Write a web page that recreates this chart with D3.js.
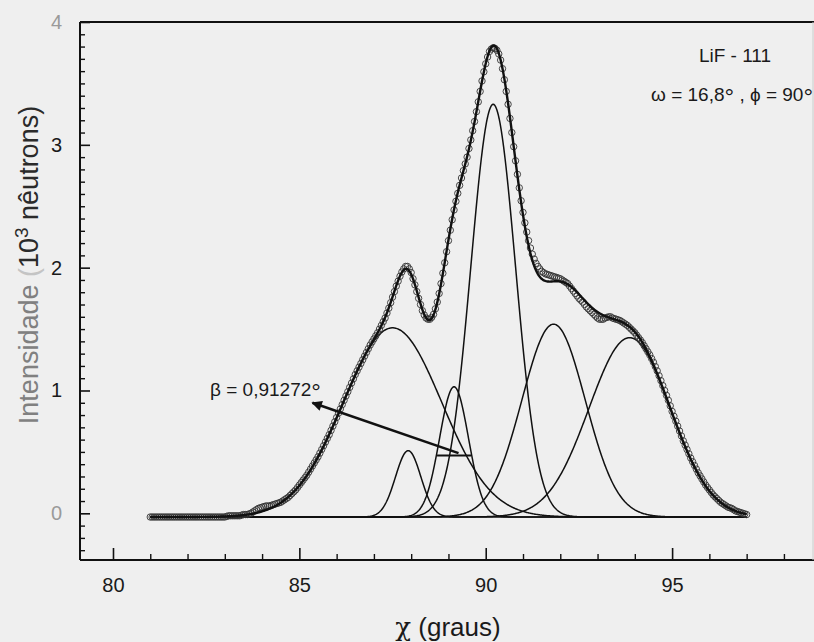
<!DOCTYPE html>
<html>
<head>
<meta charset="utf-8">
<script src="https://cdn.jsdelivr.net/npm/d3@7"></script>
<style>
  body { margin: 0; background: #efefef; }
  svg { display: block; font-family: "Liberation Sans", Arial, sans-serif; }
</style>
</head>
<body>
<svg id="chart" width="814" height="642"></svg>
<script>
'use strict'

// measured profile: chi from 81.00 to 97.00 in steps of 0.05 (10^3 neutrons)
const chiStart = 81
const chiStep = 0.05
const counts = [
  -0.03, -0.03, -0.03, -0.03, -0.03, -0.03, -0.03, -0.03, -0.03, -0.03,
  -0.03, -0.03, -0.03, -0.03, -0.03, -0.03, -0.03, -0.03, -0.03, -0.03,
  -0.03, -0.03, -0.03, -0.03, -0.03, -0.03, -0.03, -0.03, -0.03, -0.03,
  -0.03, -0.03, -0.03, -0.03, -0.03, -0.03, -0.03, -0.03, -0.03, -0.03,
  -0.03, -0.025, -0.02, -0.02, -0.02, -0.02, -0.02, -0.02, -0.02, -0.015,
  -0.01, -0.01, -0.01, -0.005, 0.00, 0.01, 0.02, 0.03, 0.04, 0.045,
  0.05, 0.055, 0.06, 0.06, 0.06, 0.065, 0.07, 0.075, 0.08, 0.085,
  0.09, 0.10, 0.11, 0.12, 0.13, 0.145, 0.16, 0.175, 0.19, 0.21,
  0.23, 0.25, 0.27, 0.29, 0.31, 0.335, 0.36, 0.385, 0.41, 0.435,
  0.46, 0.49, 0.52, 0.55, 0.58, 0.61, 0.64, 0.675, 0.71, 0.745,
  0.78, 0.815, 0.85, 0.885, 0.92, 0.955, 0.99, 1.025, 1.06, 1.095,
  1.13, 1.16, 1.19, 1.22, 1.25, 1.28, 1.31, 1.34, 1.37, 1.395,
  1.42, 1.445, 1.47, 1.50, 1.53, 1.56, 1.59, 1.63, 1.67, 1.715,
  1.76, 1.805, 1.85, 1.89, 1.93, 1.965, 1.99, 2.01, 2.01, 1.99,
  1.96, 1.91, 1.86, 1.805, 1.75, 1.70, 1.65, 1.615, 1.59, 1.58,
  1.58, 1.595, 1.62, 1.665, 1.72, 1.79, 1.87, 1.955, 2.04, 2.13,
  2.22, 2.305, 2.39, 2.47, 2.54, 2.605, 2.67, 2.73, 2.79, 2.845,
  2.90, 2.97, 3.04, 3.115, 3.19, 3.27, 3.35, 3.435, 3.52, 3.595,
  3.66, 3.715, 3.76, 3.78, 3.79, 3.785, 3.77, 3.74, 3.69, 3.62,
  3.53, 3.435, 3.33, 3.215, 3.10, 2.985, 2.87, 2.76, 2.65, 2.545,
  2.45, 2.365, 2.29, 2.22, 2.16, 2.11, 2.07, 2.035, 2.01, 1.99,
  1.97, 1.96, 1.95, 1.945, 1.94, 1.935, 1.93, 1.925, 1.92, 1.915,
  1.91, 1.90, 1.89, 1.88, 1.87, 1.85, 1.83, 1.81, 1.79, 1.77,
  1.75, 1.735, 1.72, 1.70, 1.68, 1.665, 1.65, 1.635, 1.62, 1.605,
  1.59, 1.58, 1.58, 1.58, 1.59, 1.595, 1.60, 1.60, 1.59, 1.585,
  1.58, 1.575, 1.57, 1.56, 1.55, 1.54, 1.53, 1.515, 1.50, 1.485,
  1.47, 1.45, 1.43, 1.41, 1.39, 1.365, 1.34, 1.315, 1.29, 1.26,
  1.23, 1.195, 1.16, 1.12, 1.08, 1.04, 1.00, 0.96, 0.92, 0.875,
  0.83, 0.79, 0.75, 0.71, 0.67, 0.63, 0.59, 0.555, 0.52, 0.485,
  0.45, 0.42, 0.39, 0.36, 0.33, 0.305, 0.28, 0.255, 0.23, 0.21,
  0.19, 0.17, 0.15, 0.135, 0.12, 0.105, 0.09, 0.08, 0.07, 0.06,
  0.05, 0.045, 0.04, 0.03, 0.02, 0.015, 0.01, 0.005, 0.00, -0.005,
  -0.01
]

// fitted gaussian components (centre, height above baseline, sigma)
const peakCentres = [87.5, 87.92, 89.15, 90.2, 91.82, 93.86]
const peakHeights = [1.54, 0.54, 1.06, 3.36, 1.57, 1.46]
const peakSigmas = [1.32, 0.34, 0.3876, 0.60, 0.85, 1.09]
const baseline = -0.03
const fitRange = [81, 97]

const xMajorTicks = [80, 85, 90, 95]
const yMajorTicks = [0, 1, 2, 3, 4]

const fwhmLabel = 'β = 0,91272°'
const fwhm = 0.91272

const svg = d3.select('#chart')
const x = d3.scaleLinear().domain([79.115, 98.78]).range([80, 813])
const y = d3.scaleLinear().domain([-0.38, 4]).range([560, 22])

const data = counts.map((c, i) => ({ chi: chiStart + i * chiStep, v: c }))

function gauss (xv, k) {
  const d = xv - peakCentres[k]
  return peakHeights[k] * Math.exp(-d * d / (2 * peakSigmas[k] * peakSigmas[k]))
}

// sample points along the fit range for the smooth curves
const fitXs = d3.range(fitRange[0], fitRange[1] + 0.001, 0.02)

const line = d3.line().x(d => x(d[0])).y(d => y(d[1]))

// components
peakCentres.forEach((c, k) => {
  svg.append('path')
    .attr('d', line(fitXs.map(xv => [xv, baseline + gauss(xv, k)])))
    .attr('fill', 'none')
    .attr('stroke', '#111')
    .attr('stroke-width', 1.5)
})

// measured points
svg.append('g').selectAll('circle')
  .data(data)
  .enter().append('circle')
  .attr('cx', d => x(d.chi))
  .attr('cy', d => y(d.v))
  .attr('r', 3.2)
  .attr('fill', 'none')
  .attr('stroke', '#333')
  .attr('stroke-width', 0.9)

// envelope (sum of components)
svg.append('path')
  .attr('d', line(fitXs.map(xv => [xv, baseline + d3.sum(peakCentres, (c, k) => gauss(xv, k))])))
  .attr('fill', 'none')
  .attr('stroke', '#111')
  .attr('stroke-width', 2.4)

// frame
svg.append('line').attr('x1', 80).attr('x2', 814).attr('y1', 22).attr('y2', 22)
  .attr('stroke', '#111').attr('stroke-width', 2)
svg.append('line').attr('x1', 80).attr('x2', 80).attr('y1', 22).attr('y2', 560)
  .attr('stroke', '#111').attr('stroke-width', 2)
svg.append('line').attr('x1', 80).attr('x2', 814).attr('y1', 560).attr('y2', 560)
  .attr('stroke', '#111').attr('stroke-width', 2)
svg.append('line').attr('x1', 813).attr('x2', 813).attr('y1', 22).attr('y2', 560)
  .attr('stroke', '#ccc').attr('stroke-width', 1)

// x axis
const xMinor = d3.range(80, 99).filter(v => v % 5 !== 0)
svg.append('g')
  .attr('transform', 'translate(0,560)')
  .call(d3.axisBottom(x).tickValues(xMinor).tickSize(-6).tickFormat(''))
  .call(g => g.select('.domain').remove())
  .call(g => g.selectAll('line').attr('stroke', '#111').attr('stroke-width', 1.4))

svg.append('g')
  .attr('transform', 'translate(0,560)')
  .call(d3.axisBottom(x).tickValues(xMajorTicks).tickSize(-12).tickPadding(18).tickFormat(d3.format('d')))
  .call(g => g.select('.domain').remove())
  .call(g => g.selectAll('line').attr('stroke', '#111').attr('stroke-width', 1.6))
  .call(g => g.selectAll('text').attr('fill', '#1a1a1a'))
  .attr('font-size', 20)
  .attr('font-family', '"Liberation Sans", Arial, sans-serif')

// y axis
const yMinor = d3.range(-3, 40).map(i => i / 10).filter(v => Math.abs(v - Math.round(v)) > 0.01)
svg.append('g')
  .attr('transform', 'translate(80,0)')
  .call(d3.axisLeft(y).tickValues(yMinor).tickSize(-5).tickFormat(''))
  .call(g => g.select('.domain').remove())
  .call(g => g.selectAll('line').attr('stroke', '#111').attr('stroke-width', 1.4))

svg.append('g')
  .attr('transform', 'translate(80,0)')
  .call(d3.axisLeft(y).tickValues(yMajorTicks).tickSize(-10).tickPadding(18).tickFormat(d3.format('d')))
  .call(g => g.select('.domain').remove())
  .call(g => g.selectAll('line').attr('stroke', '#111').attr('stroke-width', 1.6))
  .call(g => g.selectAll('text').attr('fill', d => (d === 0 || d === 4) ? '#9a9a9a' : '#1a1a1a'))
  .attr('font-size', 20)
  .attr('font-family', '"Liberation Sans", Arial, sans-serif')

// y title
const yTitle = svg.append('text')
  .attr('transform', 'translate(38,265) rotate(-90)')
  .attr('text-anchor', 'middle')
  .attr('font-size', 27)
yTitle.append('tspan').attr('fill', '#808080').text('Intensidade ')
yTitle.append('tspan').attr('fill', '#c4c4c4').text('(')
yTitle.append('tspan').attr('fill', '#2a2a2a').text('10')
yTitle.append('tspan').attr('fill', '#2a2a2a').attr('font-size', 19).attr('dy', -10).text('3')
yTitle.append('tspan').attr('fill', '#2a2a2a').attr('dy', 10).text(' nêutrons)')

// x title
const xTitle = svg.append('text')
  .attr('x', 448)
  .attr('y', 636)
  .attr('text-anchor', 'middle')
  .attr('font-size', 26)
  .attr('fill', '#1a1a1a')
xTitle.append('tspan').attr('font-family', '"DejaVu Serif", serif').text('χ')
xTitle.append('tspan').text(' (graus)')

// sample labels
svg.append('text')
  .attr('x', 735).attr('y', 62)
  .attr('text-anchor', 'middle')
  .attr('font-size', 19)
  .attr('fill', '#1a1a1a')
  .text('LiF - 111')

const angles = svg.append('text')
  .attr('x', 813).attr('y', 101)
  .attr('text-anchor', 'end')
  .attr('font-size', 19)
  .attr('fill', '#1a1a1a')
angles.append('tspan').text('ω = 16,8')
angles.append('tspan').attr('font-size', 24).attr('dy', 4).text('°')
angles.append('tspan').attr('dy', -4).text(' , ϕ = 90')
angles.append('tspan').attr('font-size', 24).attr('dy', 4).text('°')

// FWHM marker and arrow
const fwhmY = 0.47
svg.append('line')
  .attr('x1', x(peakCentres[2] - fwhm / 2)).attr('x2', x(peakCentres[2] + fwhm / 2))
  .attr('y1', y(fwhmY)).attr('y2', y(fwhmY))
  .attr('stroke', '#111').attr('stroke-width', 2)

svg.append('defs').append('marker')
  .attr('id', 'arrow')
  .attr('viewBox', '0 0 10 10')
  .attr('refX', 9).attr('refY', 5)
  .attr('markerWidth', 5).attr('markerHeight', 4)
  .attr('orient', 'auto')
  .append('path').attr('d', 'M0,0L10,5L0,10z').attr('fill', '#111')

svg.append('line')
  .attr('x1', x(89.27)).attr('y1', y(0.49))
  .attr('x2', x(85.35)).attr('y2', y(0.9))
  .attr('stroke', '#111').attr('stroke-width', 2.6)
  .attr('marker-end', 'url(#arrow)')

const betaText = svg.append('text')
  .attr('x', 210).attr('y', 396)
  .attr('font-size', 19)
  .attr('fill', '#1a1a1a')
betaText.append('tspan').text(fwhmLabel.slice(0, -1))
betaText.append('tspan').attr('font-size', 24).attr('dy', 4).text('°')
</script>
</body>
</html>
